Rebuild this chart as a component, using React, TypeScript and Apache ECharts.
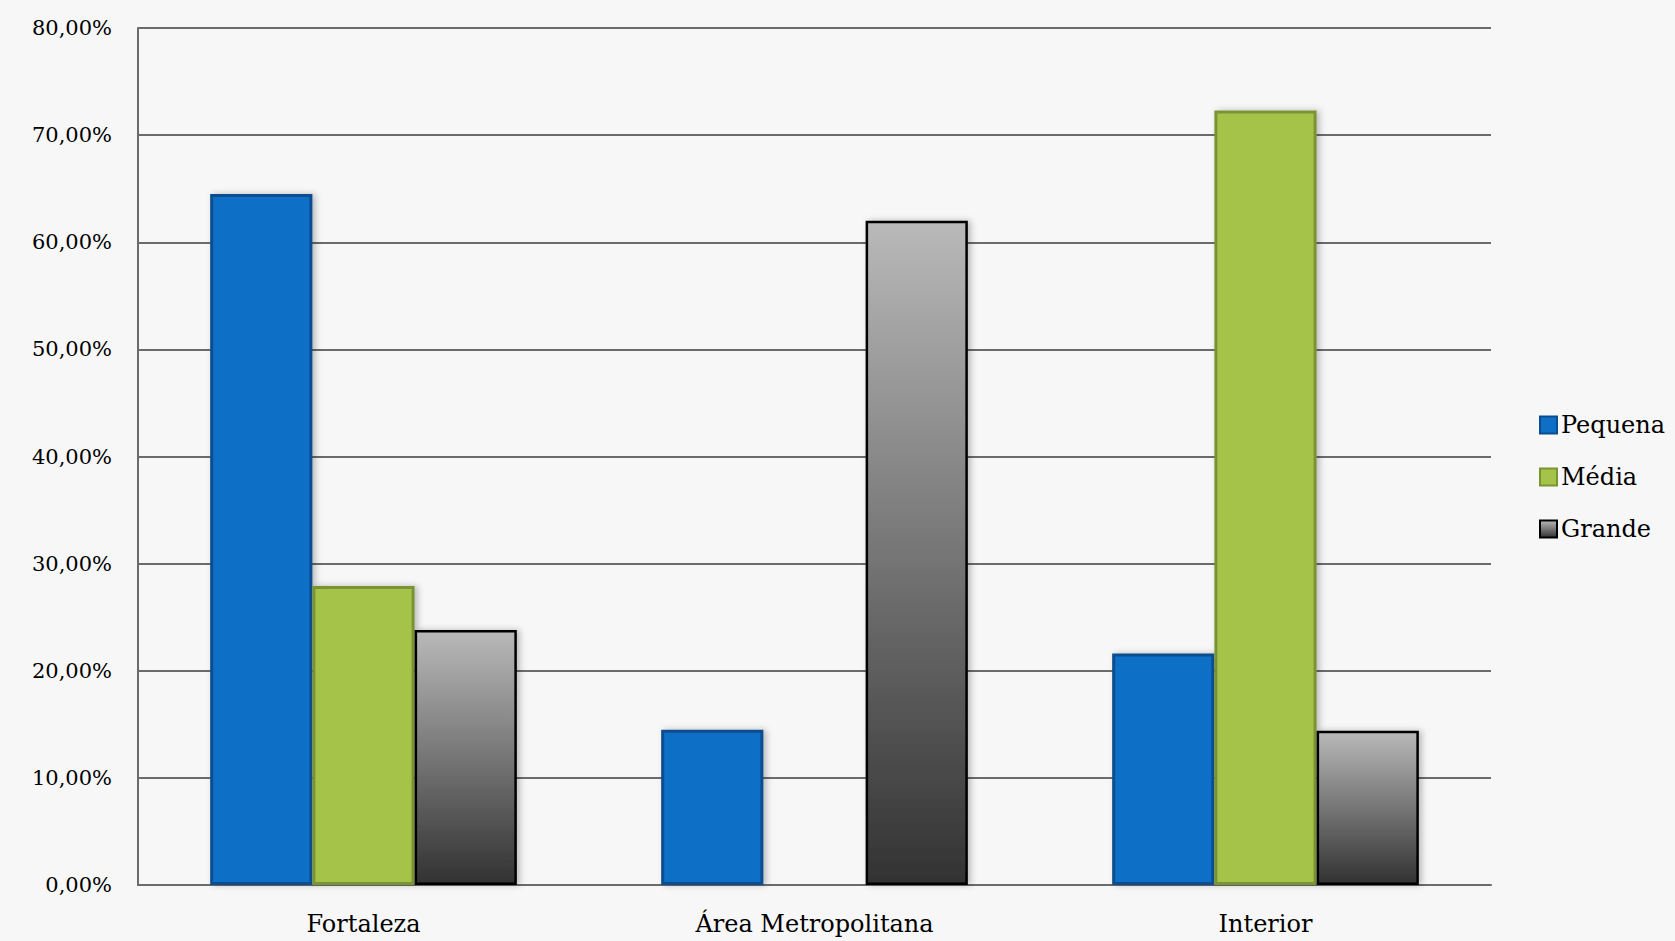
import React, { useEffect, useRef } from "react";
import * as echarts from "echarts";

const categories = ["Fortaleza", "Área Metropolitana", "Interior"];
const seriesNames = ["Pequena", "Média", "Grande"];
const pequena = [64.5, 14.5, 21.6];
const media = [27.9, 0, 72.3];
const grande = [23.8, 62.0, 14.4];
const yTicks = [0, 10, 20, 30, 40, 50, 60, 70, 80];

const FONT = "'DejaVu Serif', 'Liberation Serif', serif";

export default function App() {
  const ref = useRef<HTMLDivElement>(null);
  useEffect(() => {
    document.body.style.margin = "0";
    const chart = echarts.init(ref.current!, null, { renderer: "svg" });
    const grayGrad = new echarts.graphic.LinearGradient(0, 0, 0, 1, [
      { offset: 0, color: "#b9b9b9" },
      { offset: 1, color: "#323232" },
    ]);
    const shadow = { shadowBlur: 6, shadowColor: "rgba(0,0,0,0.25)", shadowOffsetX: 3, shadowOffsetY: 0 };
    chart.setOption({
      animation: false,
      backgroundColor: "#f7f7f7",
      textStyle: { fontFamily: FONT },
      grid: { left: 138, right: 184, top: 28, bottom: 56, containLabel: false },
      legend: {
        orient: "vertical",
        left: 1534,
        top: 408,
        itemWidth: 17,
        itemHeight: 17,
        itemGap: 28,
        icon: "rect",
        data: seriesNames,
        textStyle: { fontFamily: FONT, fontSize: 24, color: "#000", padding: [0, 0, 0, -1] },
      },
      xAxis: {
        type: "category",
        data: categories,
        axisTick: { show: false },
        axisLine: { lineStyle: { color: "#6b6b6b", width: 2 } },
        axisLabel: { fontFamily: FONT, fontSize: 24, color: "#000", margin: 27 },
      },
      yAxis: {
        type: "value",
        min: yTicks[0],
        max: yTicks[yTicks.length - 1],
        interval: 10,
        axisLine: { show: true, lineStyle: { color: "#6b6b6b", width: 2 } },
        axisTick: { show: false },
        splitLine: { lineStyle: { color: "#6b6b6b", width: 2 } },
        axisLabel: {
          fontFamily: FONT,
          fontSize: 21,
          color: "#000",
          margin: 26,
          formatter: (v: number) => v.toFixed(2).replace(".", ",") + "%",
        },
      },
      series: [
        {
          name: seriesNames[0],
          type: "bar",
          data: pequena,
          barGap: "0%",
          barCategoryGap: "32%",
          itemStyle: { color: "#0f6fc6", borderColor: "#0b4e8f", borderWidth: 3, ...shadow },
        },
        {
          name: seriesNames[1],
          type: "bar",
          data: media,
          barGap: "0%",
          barCategoryGap: "32%",
          itemStyle: { color: "#a5c249", borderColor: "#7a9434", borderWidth: 3, ...shadow },
        },
        {
          name: seriesNames[2],
          type: "bar",
          data: grande,
          barGap: "0%",
          barCategoryGap: "32%",
          itemStyle: { color: grayGrad, borderColor: "#000", borderWidth: 2.5, ...shadow },
        },
      ],
    });
    return () => chart.dispose();
  }, []);
  return <div ref={ref} style={{ position: "fixed", left: 0, top: 0, width: 1675, height: 941 }} />;
}
